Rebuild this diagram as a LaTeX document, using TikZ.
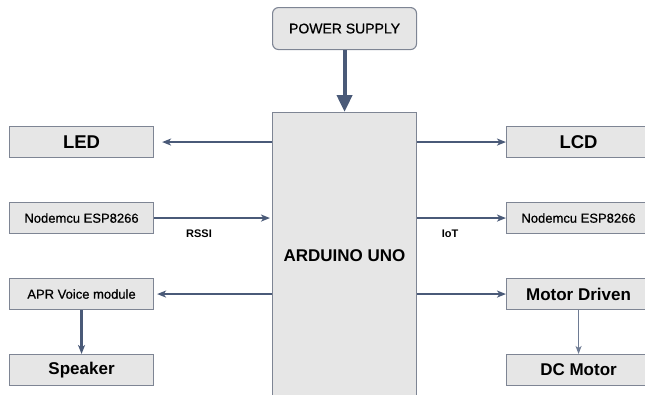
\documentclass[tikz,border=0pt]{standalone}
\usepackage{fontspec}
\setmainfont{Liberation Sans}
\newfontfamily\semifont[FakeBold=0.6]{Liberation Sans}
\usetikzlibrary{arrows.meta}
\definecolor{boxfill}{HTML}{E6E6E6}
\definecolor{boxline}{HTML}{7E8594}
\definecolor{arr}{HTML}{4A5A78}
\definecolor{arrlight}{HTML}{6E7B93}
\newcommand{\rtext}[1]{#1\hspace*{30pt}}
\begin{document}
\begin{tikzpicture}[x=1pt,y=-1pt,
  blk/.style={draw=boxline, fill=boxfill, line width=1.1pt, minimum width=144pt, minimum height=31pt, inner sep=0pt, anchor=north west},
  rblk/.style={blk, minimum width=174pt},
  big/.style={font=\fontsize{17}{20}\selectfont\bfseries},
  bigger/.style={font=\fontsize{18.5}{21}\selectfont\bfseries},
  small/.style={font=\semifont\fontsize{13}{15}\selectfont},
  lbl/.style={font=\fontsize{11}{13}\selectfont\bfseries, inner sep=0pt},
  con/.style={draw=arr, line width=1.8pt, -{Stealth[length=9pt,width=7pt,inset=2.5pt]}},
]
\useasboundingbox (0,0) rectangle (645,394);
% boxes
\node[blk, rounded corners=6pt, minimum height=42pt, font=\semifont\fontsize{14}{16}\selectfont] (pwr) at (272,7) {POWER SUPPLY};
\node[blk, minimum height=286pt, big] (ard) at (272,112) {ARDUINO UNO};
\node[blk, bigger] (led) at (9,126) {LED};
\node[blk, small] (nml) at (9,202) {Nodemcu ESP8266};
\node[blk, small] (apr) at (9,278) {APR Voice module};
\node[blk, big] (spk) at (9,354) {Speaker};
\node[rblk, bigger] (lcd) at (506,126) {\rtext{LCD}};
\node[rblk, small] (nmr) at (506,202) {\rtext{Nodemcu ESP8266}};
\node[rblk, big] (mot) at (506,278) {\rtext{Motor Driven}};
\node[rblk, big] (dcm) at (506,354) {\rtext{DC Motor}};
\coordinate (motdown) at ([xshift=-15pt]mot.south);
\coordinate (dcmup) at ([xshift=-15pt]dcm.north);
% labels
\node[lbl] (rssi) at (199,234) {RSSI};
\node[lbl] (iot) at (450,234) {IoT};
% connectors
\draw[draw=arr, line width=4pt, -{Triangle[length=17pt,width=15pt]}] (pwr.south) -- (ard.north);
\draw[con] (ard.west |- led) -- ([xshift=8pt]led.east);
\draw[con] (ard.east |- lcd) -- (lcd.west);
\draw[con] (nml.east) -- ([xshift=-2pt]ard.west |- nml);
\draw[con] (ard.east |- nmr) -- (nmr.west);
\draw[con] (ard.west |- apr) -- ([xshift=3pt]apr.east);
\draw[con] (ard.east |- mot) -- (mot.west);
\draw[con, line width=2.5pt] (apr.south) -- (spk.north);
\draw[draw=arrlight, line width=1.1pt, -{Stealth[length=8pt,width=6pt,inset=2pt]}] (motdown) -- (dcmup);
\end{tikzpicture}
\end{document}
